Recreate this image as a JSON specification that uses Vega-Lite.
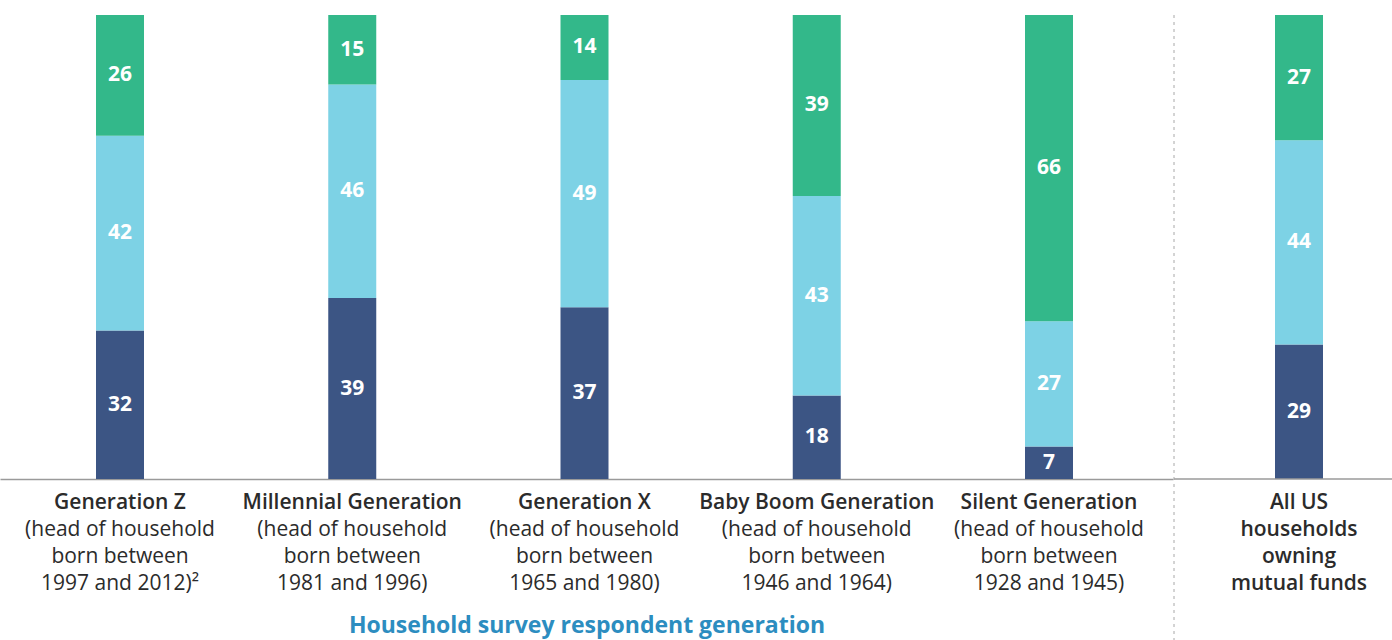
{
  "$schema": "https://vega.github.io/schema/vega-lite/v6.json",
  "padding": {"left": 0, "top": 14, "right": 0, "bottom": 0},
  "autosize": {"type": "pad"},
  "background": "white",
  "spacing": 0,
  "config": {"view": {"stroke": null}, "font": "Open Sans"},
  "datasets": {
    "shares": [
      {"gen": "Generation Z", "grp": "gen", "risk": "Above-average or substantial", "pct": 32},
      {"gen": "Generation Z", "grp": "gen", "risk": "Average", "pct": 42},
      {"gen": "Generation Z", "grp": "gen", "risk": "Below-average or unwilling", "pct": 26},
      {"gen": "Millennial Generation", "grp": "gen", "risk": "Above-average or substantial", "pct": 39},
      {"gen": "Millennial Generation", "grp": "gen", "risk": "Average", "pct": 46},
      {"gen": "Millennial Generation", "grp": "gen", "risk": "Below-average or unwilling", "pct": 15},
      {"gen": "Generation X", "grp": "gen", "risk": "Above-average or substantial", "pct": 37},
      {"gen": "Generation X", "grp": "gen", "risk": "Average", "pct": 49},
      {"gen": "Generation X", "grp": "gen", "risk": "Below-average or unwilling", "pct": 14},
      {"gen": "Baby Boom Generation", "grp": "gen", "risk": "Above-average or substantial", "pct": 18},
      {"gen": "Baby Boom Generation", "grp": "gen", "risk": "Average", "pct": 43},
      {"gen": "Baby Boom Generation", "grp": "gen", "risk": "Below-average or unwilling", "pct": 39},
      {"gen": "Silent Generation", "grp": "gen", "risk": "Above-average or substantial", "pct": 7},
      {"gen": "Silent Generation", "grp": "gen", "risk": "Average", "pct": 27},
      {"gen": "Silent Generation", "grp": "gen", "risk": "Below-average or unwilling", "pct": 66},
      {"gen": "All US", "grp": "all", "risk": "Above-average or substantial", "pct": 29},
      {"gen": "All US", "grp": "all", "risk": "Average", "pct": 44},
      {"gen": "All US", "grp": "all", "risk": "Below-average or unwilling", "pct": 27}
    ],
    "labels": [
      {"gen": "Generation Z", "grp": "gen", "detail": "(head of household\nborn between\n1997 and 2012)²"},
      {"gen": "Millennial Generation", "grp": "gen", "detail": "(head of household\nborn between\n1981 and 1996)"},
      {"gen": "Generation X", "grp": "gen", "detail": "(head of household\nborn between\n1965 and 1980)"},
      {"gen": "Baby Boom Generation", "grp": "gen", "detail": "(head of household\nborn between\n1946 and 1964)"},
      {"gen": "Silent Generation", "grp": "gen", "detail": "(head of household\nborn between\n1928 and 1945)"},
      {"gen": "All US", "grp": "all", "detail": "households\nowning\nmutual funds"}
    ]
  },
  "hconcat": [
    {
      "width": 1173,
      "height": 464,
      "layer": [
        {
          "data": {"name": "shares"},
          "transform": [
            {"filter": "datum.grp === 'gen'"},
            {"stack": "pct", "groupby": ["gen"], "sort": [{"field": "risk", "order": "ascending"}], "as": ["y0", "y1"]}
          ],
          "mark": {"type": "bar", "width": 48},
          "encoding": {
            "x": {"field": "gen", "type": "nominal", "sort": null,
                  "scale": {"domain": ["Generation Z", "Millennial Generation", "Generation X", "Baby Boom Generation", "Silent Generation"], "paddingInner": 0, "paddingOuter": 0.0253, "align": 0.33},
                  "axis": {"labels": false, "ticks": false, "domainColor": "#9a9a9a", "domainWidth": 1.5,
                           "title": "Household survey respondent generation", "titleColor": "#2C8DC0", "titleFontSize": 23, "titleFontWeight": 700, "titlePadding": 135, "titleFont": "Open Sans"}},
            "y": {"field": "y0", "type": "quantitative", "scale": {"domain": [0, 100]}, "axis": null},
            "y2": {"field": "y1"},
            "color": {"field": "risk", "type": "nominal", "legend": null,
                      "scale": {"domain": ["Above-average or substantial", "Average", "Below-average or unwilling"], "range": ["#3C5584", "#7DD2E5", "#33B88A"]}}
          }
        },
        {
          "data": {"name": "shares"},
          "transform": [
            {"filter": "datum.grp === 'gen'"},
            {"stack": "pct", "groupby": ["gen"], "sort": [{"field": "risk", "order": "ascending"}], "as": ["y0", "y1"]},
            {"fold": ["y0", "y1"], "as": ["edge", "pos"]},
            {"aggregate": [{"op": "mean", "field": "pos", "as": "mid"}], "groupby": ["gen", "risk", "pct"]}
          ],
          "mark": {"type": "text", "color": "white", "fontSize": 21, "fontWeight": 700, "baseline": "middle"},
          "encoding": {
            "x": {"field": "gen", "type": "nominal", "sort": null},
            "y": {"field": "mid", "type": "quantitative"},
            "text": {"field": "pct", "type": "quantitative"}
          }
        },
        {
          "data": {"name": "labels"},
          "transform": [{"filter": "datum.grp === 'gen'"}],
          "mark": {"type": "text", "color": "#2b2b2b", "fontSize": 21, "fontWeight": 600, "baseline": "alphabetic"},
          "encoding": {
            "x": {"field": "gen", "type": "nominal", "sort": null},
            "y": {"datum": -6.5},
            "text": {"field": "gen", "type": "nominal"}
          }
        },
        {
          "data": {"name": "labels"},
          "transform": [{"filter": "datum.grp === 'gen'"}],
          "mark": {"type": "text", "color": "#2b2b2b", "fontSize": 21, "fontWeight": 400, "baseline": "alphabetic", "lineBreak": "\n", "lineHeight": 27},
          "encoding": {
            "x": {"field": "gen", "type": "nominal", "sort": null},
            "y": {"datum": -12.3},
            "text": {"field": "detail", "type": "nominal"}
          }
        }
      ]
    },
    {
      "width": 219,
      "height": 464,
      "layer": [
        {
          "data": {"name": "shares"},
          "transform": [
            {"filter": "datum.grp === 'all'"},
            {"stack": "pct", "groupby": ["gen"], "sort": [{"field": "risk", "order": "ascending"}], "as": ["y0", "y1"]}
          ],
          "mark": {"type": "bar", "width": 48},
          "encoding": {
            "x": {"field": "gen", "type": "nominal", "scale": {"domain": ["All US"], "range": [0, 250], "paddingInner": 0, "paddingOuter": 0}, "axis": null},
            "y": {"field": "y0", "type": "quantitative", "scale": {"domain": [0, 100]}, "axis": null},
            "y2": {"field": "y1"},
            "color": {"field": "risk", "type": "nominal", "legend": null,
                      "scale": {"domain": ["Above-average or substantial", "Average", "Below-average or unwilling"], "range": ["#3C5584", "#7DD2E5", "#33B88A"]}}
          }
        },
        {
          "data": {"name": "shares"},
          "transform": [
            {"filter": "datum.grp === 'all'"},
            {"stack": "pct", "groupby": ["gen"], "sort": [{"field": "risk", "order": "ascending"}], "as": ["y0", "y1"]},
            {"fold": ["y0", "y1"], "as": ["edge", "pos"]},
            {"aggregate": [{"op": "mean", "field": "pos", "as": "mid"}], "groupby": ["gen", "risk", "pct"]}
          ],
          "mark": {"type": "text", "color": "white", "fontSize": 21, "fontWeight": 700, "baseline": "middle"},
          "encoding": {
            "x": {"field": "gen", "type": "nominal"},
            "y": {"field": "mid", "type": "quantitative"},
            "text": {"field": "pct", "type": "quantitative"}
          }
        },
        {
          "data": {"name": "labels"},
          "transform": [{"filter": "datum.grp === 'all'"}],
          "mark": {"type": "text", "color": "#2b2b2b", "fontSize": 21, "fontWeight": 600, "baseline": "alphabetic"},
          "encoding": {
            "x": {"field": "gen", "type": "nominal"},
            "y": {"datum": -6.5},
            "text": {"field": "gen", "type": "nominal"}
          }
        },
        {
          "data": {"name": "labels"},
          "transform": [{"filter": "datum.grp === 'all'"}],
          "mark": {"type": "text", "color": "#2b2b2b", "fontSize": 21, "fontWeight": 600, "baseline": "alphabetic", "lineBreak": "\n", "lineHeight": 27},
          "encoding": {
            "x": {"field": "gen", "type": "nominal"},
            "y": {"datum": -12.3},
            "text": {"field": "detail", "type": "nominal"}
          }
        },
        {
          "data": {"values": [{}]},
          "mark": {"type": "rule", "color": "#9a9a9a", "strokeWidth": 1.5},
          "encoding": {"y": {"datum": 0}}
        },
        {
          "data": {"values": [{}]},
          "mark": {"type": "rule", "color": "#a8a8a8", "strokeWidth": 1, "strokeDash": [3, 4]},
          "encoding": {
            "x": {"datum": "All US", "bandPosition": 0},
            "y": {"datum": 100},
            "y2": {"datum": -36}
          }
        }
      ]
    }
  ]
}
